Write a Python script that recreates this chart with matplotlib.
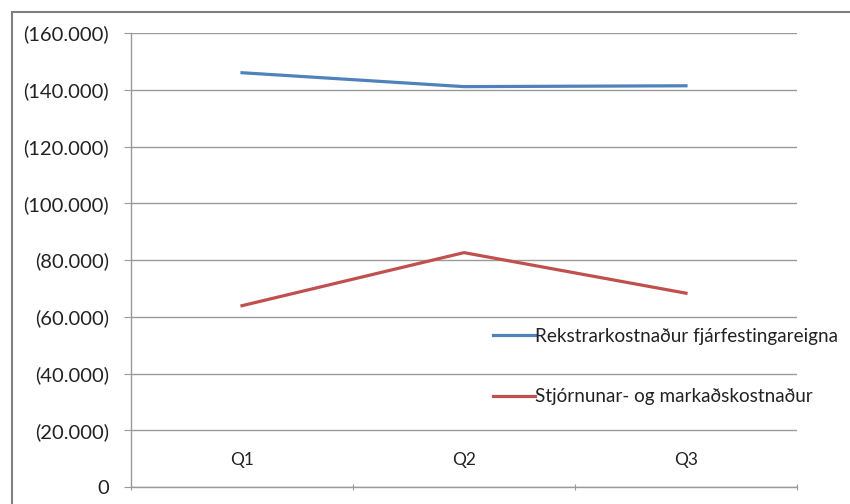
import matplotlib.pyplot as plt
from matplotlib.patches import Rectangle
from matplotlib.ticker import FuncFormatter, FixedLocator

quarters = ["Q1", "Q2", "Q3"]
rekstrar = [146000, 141100, 141400]
stjornun = [63900, 82600, 68300]
series_names = ["Rekstrarkostnaður fjárfestingareigna",
                "Stjórnunar- og markaðskostnaður"]

plt.rcParams['font.family'] = ['Lato', 'DejaVu Sans']

def paren_fmt(v, pos):
    if v == 0:
        return "0"
    return "({:,.0f})".format(v).replace(",", ".")

fig = plt.figure(figsize=(8.5, 5.04), dpi=100)
ax = fig.add_axes([131 / 850, 17 / 504, 666 / 850, 454 / 504])

x = list(range(len(quarters)))
ax.plot(x, rekstrar, color="#4F81BD", lw=2.3, label=series_names[0])
ax.plot(x, stjornun, color="#C0504D", lw=2.3, label=series_names[1])

ax.set_xlim(-0.5, len(quarters) - 0.5)
ax.set_ylim(0, 160000)
ax.yaxis.set_major_locator(FixedLocator(range(0, 160001, 20000)))
ax.yaxis.set_major_formatter(FuncFormatter(paren_fmt))
ax.grid(axis="y", color="#9a9a9a", lw=1.0)
ax.set_axisbelow(True)

# category boundaries as ticks, labels as minor ticks inside the plot
ax.xaxis.set_major_locator(FixedLocator([i - 0.5 for i in range(len(quarters) + 1)]))
ax.xaxis.set_major_formatter(FuncFormatter(lambda v, p: ""))
ax.xaxis.set_minor_locator(FixedLocator(x))
ax.set_xticklabels(quarters, minor=True)
ax.tick_params(axis="x", which="major", direction="inout", length=4, color="#9a9a9a")
ax.tick_params(axis="x", which="minor", length=0, pad=-25, labelsize=12.5, labelcolor="#222222")
ax.tick_params(axis="y", length=5, color="#9a9a9a", pad=11, labelsize=14.5, labelcolor="#222222")

for s in ["top", "right"]:
    ax.spines[s].set_visible(False)
for s in ["left", "bottom"]:
    ax.spines[s].set_color("#9a9a9a")
    ax.spines[s].set_linewidth(1.0)

ax.legend(loc="upper left", bbox_to_anchor=(493 / 850, 1 - 328 / 504),
          bbox_transform=fig.transFigure, frameon=False, fontsize=13.6,
          handlelength=2.2, handletextpad=0.0, labelspacing=2.3,
          borderpad=0, borderaxespad=0, labelcolor="#222222")

fig.patches.append(Rectangle((12 / 850, -0.1), 1.2, 1.1 - 12 / 504,
                             transform=fig.transFigure, fill=False,
                             edgecolor="#7f7f7f", lw=1.5))

fig.savefig("out.png", dpi=100)
